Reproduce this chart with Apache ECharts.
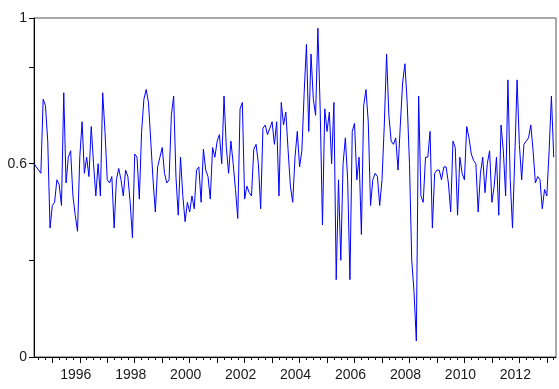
<!DOCTYPE html>
<html>
<head>
<meta charset="utf-8">
<script src="https://cdn.jsdelivr.net/npm/echarts@6/dist/echarts.min.js"></script>
<style>html,body{margin:0;padding:0;background:#fff}#c{width:559px;height:389px}</style>
</head>
<body>
<div id="c"></div>
<script>
// Monthly series starting 1994M05
const startYear = 1994;
const startMonth = 5;
const values = [
0.60,0.59,0.58,0.57,0.80,0.78,0.67,0.40,0.47,0.48,
0.55,0.535,0.47,0.82,0.54,0.62,0.64,0.50,0.44,0.39,
0.62,0.73,0.57,0.62,0.56,0.715,0.60,0.50,0.60,0.50,
0.82,0.70,0.55,0.54,0.56,0.40,0.55,0.585,0.55,0.50,
0.58,0.56,0.48,0.37,0.63,0.62,0.49,0.70,0.80,0.83,
0.79,0.67,0.55,0.45,0.59,0.62,0.65,0.57,0.54,0.55,
0.75,0.81,0.56,0.44,0.62,0.50,0.42,0.48,0.45,0.50,
0.46,0.58,0.59,0.48,0.645,0.58,0.56,0.49,0.65,0.62,
0.67,0.69,0.60,0.81,0.65,0.57,0.67,0.60,0.52,0.43,
0.77,0.79,0.49,0.53,0.51,0.50,0.645,0.66,0.60,0.46,
0.71,0.72,0.69,0.71,0.73,0.66,0.73,0.50,0.79,0.72,
0.76,0.64,0.53,0.48,0.62,0.70,0.59,0.64,0.82,0.97,
0.70,0.94,0.80,0.75,1.02,0.77,0.41,0.77,0.70,0.76,
0.60,0.79,0.24,0.55,0.30,0.60,0.68,0.55,0.24,0.70,
0.725,0.55,0.62,0.38,0.78,0.83,0.73,0.47,0.55,0.57,
0.56,0.47,0.55,0.72,0.94,0.75,0.67,0.66,0.68,0.58,
0.72,0.85,0.91,0.79,0.60,0.30,0.20,0.05,0.81,0.50,
0.48,0.62,0.62,0.70,0.40,0.57,0.58,0.58,0.55,0.59,
0.59,0.54,0.45,0.67,0.65,0.44,0.62,0.57,0.55,0.715,
0.68,0.63,0.61,0.60,0.45,0.57,0.62,0.51,0.60,0.64,
0.48,0.53,0.62,0.44,0.72,0.64,0.50,0.86,0.55,0.40,
0.62,0.86,0.66,0.55,0.66,0.67,0.68,0.72,0.64,0.54,
0.56,0.55,0.46,0.52,0.50,0.64,0.81,0.62
];
const yearLabels = [1996,1998,2000,2002,2004,2006,2008,2010,2012];
const yLabelValues = [0, 0.6, 1.052];
const yLabelTexts = ['0', '0.6', '1'];
const yTickValues = [0, 0.3, 0.6, 0.9, 1.052];

const xMin = startYear + (startMonth - 1) / 12;
const xMax = xMin + values.length / 12;
const data = values.map((v, i) => [xMin + i / 12, v]);

const quarterTicks = [];
for (let y = 1994; y <= 2013; y++) for (let q = 0; q < 4; q++) {
  const t = y + q / 4;
  if (t >= xMin - 1e-9 && t <= xMax + 1e-9) quarterTicks.push(t);
}
const yearTicks = [];
for (let y = 1995; y <= 2013; y++) yearTicks.push(y);

const font = 'Arial, "Liberation Sans", sans-serif';
const chart = echarts.init(document.getElementById('c'), null, {renderer: 'canvas'});
chart.setOption({
  animation: false,
  backgroundColor: '#fff',
  grid: {left: 34, right: 3, top: 18, bottom: 32, show: true, borderColor: '#555', borderWidth: 1, backgroundColor: 'transparent'},
  xAxis: [
    {
      type: 'value', min: xMin, max: xMax, position: 'bottom',
      axisLine: {show: true, onZero: false, lineStyle: {color: '#000', width: 1}},
      axisTick: {show: true, customValues: quarterTicks, length: 3, lineStyle: {color: '#000'}},
      axisLabel: {show: false},
      splitLine: {show: false}
    },
    {
      type: 'value', min: xMin, max: xMax, position: 'bottom',
      axisLine: {show: false, onZero: false},
      axisTick: {show: true, customValues: yearTicks, length: 6, lineStyle: {color: '#000'}},
      axisLabel: {show: true, customValues: yearLabels, formatter: v => String(Math.round(v)),
        color: '#1a1a1a', fontSize: 14, fontFamily: font, margin: 11, padding: [0, 8, 0, 0]},
      splitLine: {show: false}
    }
  ],
  yAxis: {
    type: 'value', min: 0, max: 1.052,
    axisLine: {show: true, lineStyle: {color: '#000', width: 1}},
    axisTick: {show: true, customValues: yTickValues, length: 5, lineStyle: {color: '#000'}},
    axisLabel: {show: true, customValues: yLabelValues,
      formatter: v => { const k = yLabelValues.findIndex(u => Math.abs(u - v) < 1e-6); return k >= 0 ? yLabelTexts[k] : ''; },
      color: '#1a1a1a', fontSize: 14, fontFamily: font, margin: 7},
    splitLine: {show: false}
  },
  series: [{
    type: 'line', xAxisIndex: 0, data: data, showSymbol: false, symbol: 'none',
    lineStyle: {color: '#0000ff', width: 1}, clip: true
  }]
});
</script>
</body>
</html>
